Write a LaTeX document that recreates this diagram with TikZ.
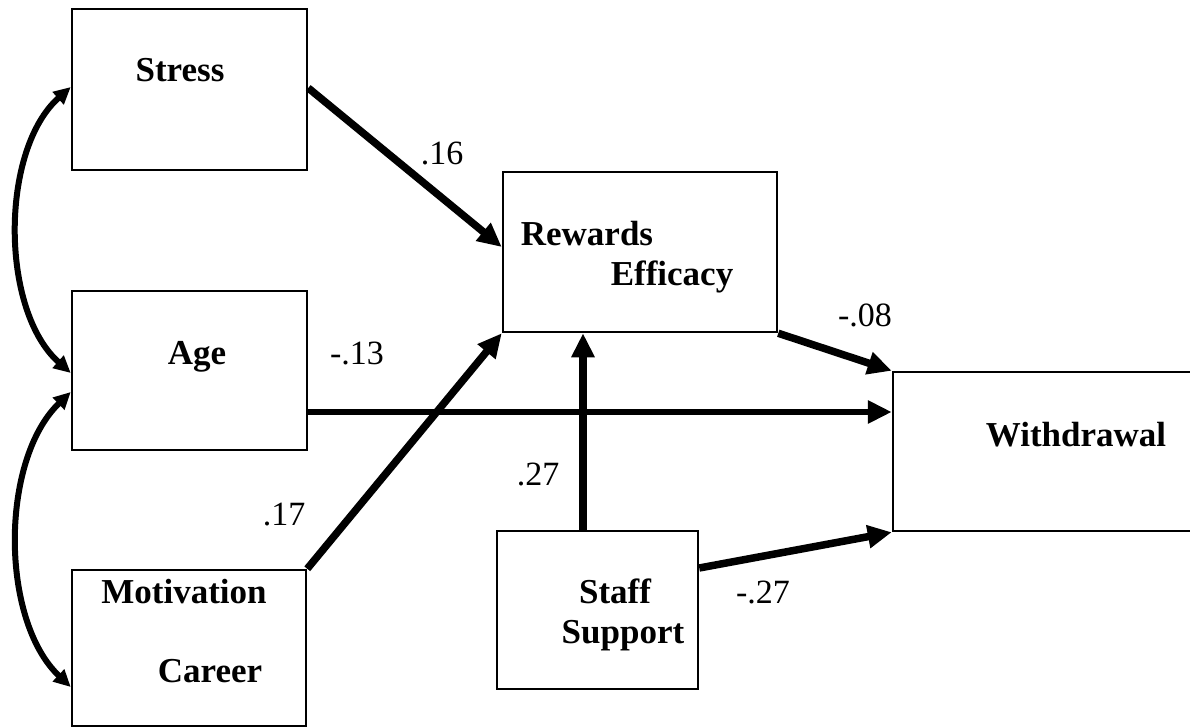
\documentclass[tikz,border=0pt]{standalone}
\usepackage{fontspec}
\setmainfont{Liberation Serif}
\usetikzlibrary{arrows.meta}
\begin{document}
\begin{tikzpicture}[x=1pt,y=-1pt,
  box/.style={draw, line width=2.5pt, rectangle, inner sep=0pt},
  lab/.style={anchor=base, inner sep=0pt, font=\fontsize{35}{42}\selectfont\bfseries},
  coef/.style={anchor=base, inner sep=0pt, font=\fontsize{34}{40}\selectfont},
  path/.style={line width=7.5pt, -{Triangle[length=24pt,width=22pt]}},
  corr/.style={line width=6pt, {Triangle[length=17pt,width=16pt]}-{Triangle[length=17pt,width=16pt]}}
]
\useasboundingbox (0,0) rectangle (1190,727);
\fill[white] (0,0) rectangle (1190,727);
\clip (0,0) rectangle (1190,727);

% boxes
\node[box, minimum width=235pt, minimum height=161pt] (stress) at (189.5,89.5) {};
\node[box, minimum width=235pt, minimum height=159pt] (age) at (189.5,370.5) {};
\node[box, minimum width=234pt, minimum height=156pt] (mot) at (189,648) {};
\node[box, minimum width=274pt, minimum height=160pt] (rew) at (640,252) {};
\node[box, minimum width=201pt, minimum height=158pt] (staff) at (597.5,610) {};
\node[box, minimum width=357pt, minimum height=159pt] (wd) at (1071.5,451.5) {};

% box texts
\node[lab] (tStress) at (180,82) {Stress};
\node[lab] (tAge) at (197,364) {Age};
\node[lab] (tMot) at (184,603) {Motivation};
\node[lab] (tCar) at (210,682) {Career};
\node[lab] (tRew) at (587,245) {Rewards};
\node[lab] (tEff) at (672,285) {Efficacy};
\node[lab] (tWd) at (1076,446) {Withdrawal};
\node[lab] (tStaff) at (615,603) {Staff};
\node[lab] (tSup) at (623,643) {Support};

% coefficients
\node[coef] (c16) at (442,165) {.16};
\node[coef] (c13) at (357,364) {-.13};
\node[coef] (c17) at (284,525) {.17};
\node[coef] (c27a) at (538,485) {.27};
\node[coef] (c08) at (865,326) {-.08};
\node[coef] (c27b) at (763,603) {-.27};

% directed paths
\draw[path] ([yshift=1.5pt]stress.east) -- ([yshift=5pt]rew.west);
\draw[path, line width=6pt] ([yshift=-41.5pt]age.east) coordinate (a1) -- (a1 -| wd.west);
\draw[path] (mot.north east) -- (rew.south west);
\draw[path] ([xshift=-14.5pt]staff.north) coordinate (s1) -- (s1 |- rew.south);
\draw[path] (rew.south east) -- (wd.north west);
\draw[path] ([yshift=42pt]staff.east) -- (wd.south west);

% correlations
\draw[corr] ([yshift=2.5pt]stress.west) .. controls (0,150) and (0,310) .. ([yshift=-2.5pt]age.west);
\draw[corr] ([yshift=-21.5pt]age.west) .. controls (0,460) and (0,620) .. ([yshift=-39pt]mot.west);
\end{tikzpicture}
\end{document}
